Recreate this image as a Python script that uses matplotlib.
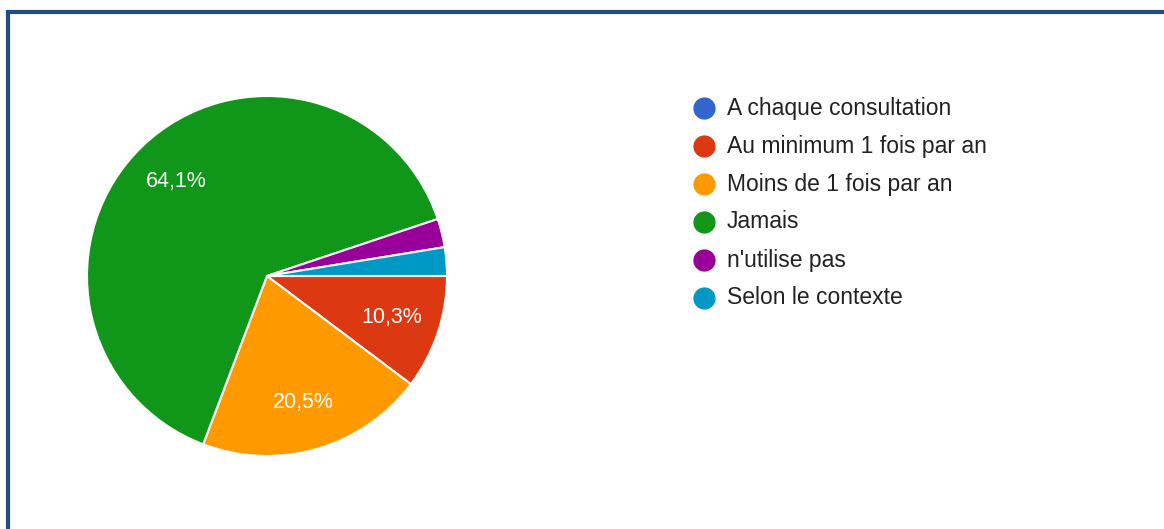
import matplotlib.pyplot as plt
from matplotlib.patches import Rectangle

categories = ['A chaque consultation', 'Au minimum 1 fois par an', 'Moins de 1 fois par an',
              'Jamais', "n'utilise pas", 'Selon le contexte']
counts = [0, 4, 8, 25, 1, 1]
colors = ['#3366cc', '#dc3912', '#ff9900', '#109618', '#990099', '#0099c6']

W, H = 1164, 529
fig = plt.figure(figsize=(W / 100, H / 100), dpi=100)
ax = fig.add_axes([0, 0, 1, 1])
ax.axis('off')

# frame border (only top and left are visible in the crop)
ax.add_patch(Rectangle((7.5, -20), W + 20, H - 11.5 + 20, fill=False,
                       edgecolor='#1f4e86', linewidth=3))


def pct_label(p):
    if p < 5:
        return ''
    return f'{p:.1f}%'.replace('.', ',')


wedges, texts, autotexts = ax.pie(
    counts, colors=colors, center=(267, H - 276), radius=180,
    startangle=0, counterclock=False, autopct=pct_label, pctdistance=0.73,
    wedgeprops=dict(edgecolor='white', linewidth=1.5),
    textprops=dict(color='white', fontsize=15.5, family='Liberation Sans'))
ax.set_xlim(0, W)
ax.set_ylim(0, H)
ax.set_aspect('auto')

# legend, drawn by hand to match the spacing
leg_x, leg_y, step = 704, H - 108, 38
for i, (lab, c) in enumerate(zip(categories, colors)):
    y = leg_y - i * step
    ax.scatter([leg_x], [y], s=15 ** 2, color=c, zorder=3)
    ax.text(leg_x + 23, y, lab, va='center', ha='left', fontsize=16.5,
            family='Liberation Sans', color='#222222')

fig.savefig('out.png', dpi=100, facecolor='white')
